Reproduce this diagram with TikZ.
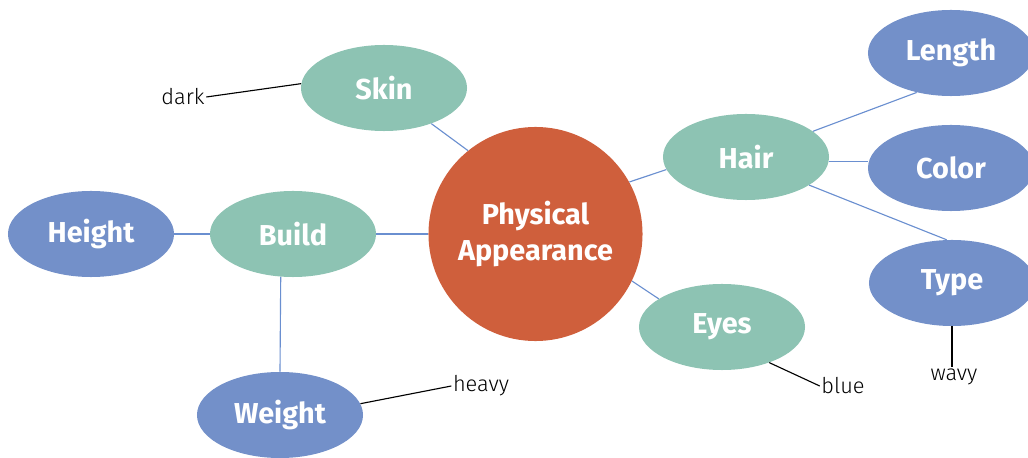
\documentclass[tikz,border=0pt]{standalone}
\usepackage{fontspec}
\setmainfont{Fira Sans}
\newfontfamily\notefont{Fira Sans Light}
\usetikzlibrary{shapes.geometric}

\definecolor{coreorange}{RGB}{207,95,60}
\definecolor{topicteal}{RGB}{141,195,179}
\definecolor{detailblue}{RGB}{115,144,201}
\definecolor{linkblue}{RGB}{106,143,208}

\begin{document}
\begin{tikzpicture}[x=0.025cm, y=-0.025cm,
    bubble/.style={ellipse, minimum width=4.15cm, minimum height=2.15cm,
        text=white, font=\fontsize{20.5}{25}\selectfont\bfseries, inner sep=0pt},
    topic/.style={bubble, fill=topicteal},
    detail/.style={bubble, fill=detailblue},
    note/.style={font=\notefont\fontsize{15.5}{19}\selectfont, inner sep=1pt},
    link/.style={linkblue, line width=0.8pt},
    tag/.style={black, line width=0.8pt}]
    \useasboundingbox (0,0) rectangle (1028,458);

    % Center
    \node[circle, fill=coreorange, minimum size=5.35cm, align=center,
        text=white, font=\fontsize{20.5}{25}\selectfont\bfseries] (pa) at (535.5,234)
        {Physical\\Appearance};

    % Topics
    \node[topic] (skin) at (384,88) {Skin};
    \node[topic] (build) at (293,234) {Build};
    \node[topic] (hair) at (746,157) {Hair};
    \node[topic] (eyes) at (722,327) {Eyes};

    % Details
    \node[detail] (height) at (91,234) {Height};
    \node[detail] (weight) at (280,415) {Weight};
    \node[detail] (length) at (951,53) {Length};
    \node[detail] (color) at (951,168) {Color};
    \node[detail] (type) at (952,283) {Type};

    % Notes
    \node[note] (dark) at (183,97) {dark};
    \node[note] (heavy) at (481,386) {heavy};
    \node[note] (blue) at (843,386) {blue};
    \node[note] (wavy) at (954,377) {wavy};

    % Links
    \draw[link] (skin.-37) -- (pa.129);
    \draw[link] (build.east) -- (pa.west);
    \draw[link] (height.east) -- (build.west);
    \draw[link] (build.254) -- (weight.north);
    \draw[link] (hair.189) -- (pa.29);
    \draw[link] (eyes.156) -- (pa.-26);
    \draw[link] (hair.21) -- (length.229);
    \draw[link] (hair.-3) -- (hair.-3 -| color.west);
    \draw[link] (hair.-24) -- (type.97);

    % Tags
    \draw[tag] (dark.east) -- (skin.177);
    \draw[tag] (weight.8) -- (heavy.west);
    \draw[tag] (eyes.-37) -- (blue.west);
    \draw[tag] (type.south) -- (type.south |- wavy.north);
\end{tikzpicture}
\end{document}
